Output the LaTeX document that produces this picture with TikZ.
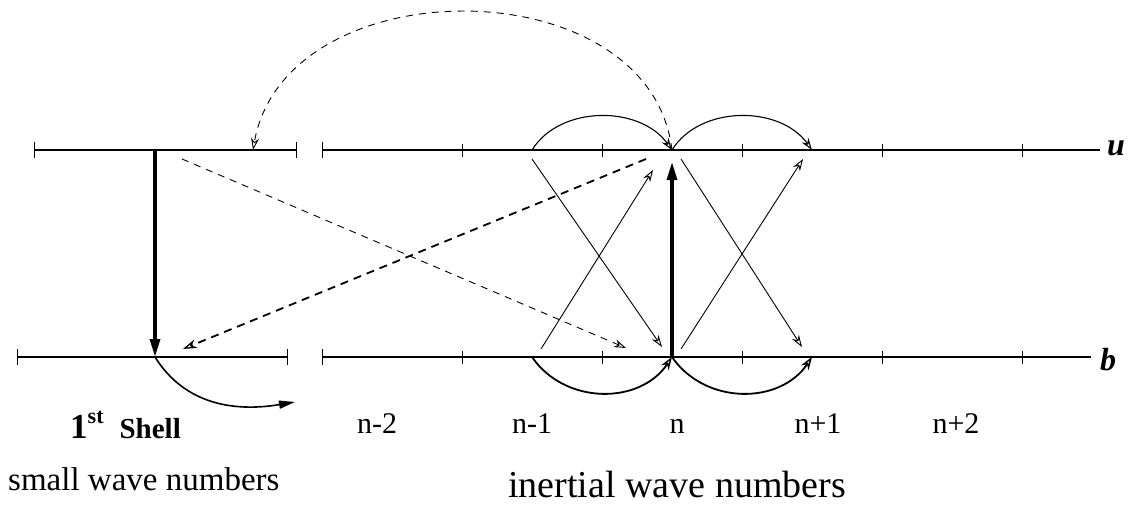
\documentclass[tikz,border=0pt]{standalone}
\usepackage{fontspec}
\setmainfont{Liberation Serif}
\usetikzlibrary{arrows.meta}
\begin{document}
\begin{tikzpicture}[x=1pt,y=-1pt,
  axis/.style={line width=1.3pt},
  shellline/.style={line width=1.8pt},
  tickmark/.style={line width=0.9pt},
  thinarr/.style={line width=0.9pt,-{Stealth[open,length=12pt,width=8pt]}},
  arcarr/.style={line width=1.1pt,-{Stealth[open,length=12pt,width=8pt]}},
  botarr/.style={line width=1.8pt,-{Stealth[open,length=13pt,width=9pt,line width=1.4pt]}},
  boldarr/.style={line width=3.2pt,-{Triangle[length=18pt,width=10pt]}},
  dasharr/.style={line width=0.9pt,dash pattern=on 7pt off 6pt,-{Stealth[open,length=12pt,width=8pt]}},
  thickdash/.style={line width=1.8pt,dash pattern=on 8pt off 6pt,-{Stealth[open,length=14pt,width=9pt,line width=1.3pt]}},
  lab/.style={font=\fontsize{30}{32}\selectfont,anchor=base,inner sep=0pt},
  var/.style={font=\fontsize{32}{34}\selectfont\bfseries\itshape,inner sep=0pt}
]
\useasboundingbox (0,0) rectangle (1131,508);

% points
\coordinate (uL) at (34,150);  \coordinate (uR) at (296,150);
\coordinate (bL) at (17,357);  \coordinate (bR) at (287,357);
\coordinate (uA) at (322,150); \coordinate (uB) at (1100,150);
\coordinate (bA) at (322,357); \coordinate (bB) at (1091,357);
\coordinate (uS) at (155,150); \coordinate (bS) at (155,357);
\coordinate (un1) at (532,150); \coordinate (un) at (672,150); \coordinate (unp) at (812,150);
\coordinate (bn1) at (532,357); \coordinate (bn) at (672,357); \coordinate (bnp) at (812,357);
\coordinate (uD) at (253,150);
\coordinate (shellend) at (295,402);

% axes
\draw[shellline] (uL) -- (uR);
\draw[shellline] (bL) -- (bR);
\draw[axis] (uA) -- (uB);
\draw[axis] (bA) -- (bB);
\foreach \p in {uL,uR,bL,bR,uA,bA}
  \draw[tickmark] ([yshift=-8pt]\p) -- ([yshift=8pt]\p);
\foreach \x in {462,602,742,882,1022}{
  \draw[tickmark] (\x,144) -- (\x,157);
  \draw[tickmark] (\x,351) -- (\x,364);
}

% bold vertical arrows
\draw[boldarr] (uS) -- (bS);
\draw[boldarr] (bn) -- ([yshift=-12pt]un);

% top arcs
\draw[arcarr] (un1) .. controls (560,105) and (640,105) .. (un);
\draw[arcarr] (un) .. controls (700,105) and (780,105) .. (unp);

% bottom arcs
\draw[botarr] (bn1) .. controls (565,405) and (640,405) .. (bn);
\draw[botarr] (bn) .. controls (705,405) and (780,405) .. (bnp);

% shell curve
\draw[line width=1.6pt,-{Triangle[length=16pt,width=8pt]}] (bS) .. controls (185,405) and (235,412) .. (shellend);

% crossing diagonals
\coordinate (a1) at (532,159); \coordinate (a2) at (662,347);
\coordinate (c1) at (541,349); \coordinate (c2) at (653,170);
\coordinate (e1) at (681,159); \coordinate (e2) at (802,347);
\coordinate (f1) at (681,349); \coordinate (f2) at (803,159);
\draw[thinarr] (a1) -- (a2);
\draw[thinarr] (c1) -- (c2);
\draw[thinarr] (e1) -- (e2);
\draw[thinarr] (f1) -- (f2);

% dashed
\coordinate (d1) at (182,159); \coordinate (d2) at (626,348);
\coordinate (g1) at (646,159); \coordinate (g2) at (183,349);
\draw[dasharr] (d1) -- (d2);
\draw[thickdash] (g1) -- (g2);
\draw[dasharr] (un) .. controls (650,-34) and (285,-34) .. (uD);

% labels
\node[var] (ulab) at (1116,148) {u};
\node[var] (blab) at (1108,360) {b};
\node[lab] (l1) at (377,433) {n-2};
\node[lab] (l2) at (532,433) {n-1};
\node[lab] (l3) at (677,433) {n};
\node[lab] (l4) at (818,433) {n+1};
\node[lab] (l5) at (956,433) {n+2};
\node[anchor=base west,inner sep=0pt] (shell) at (70,438)
  {\fontsize{35}{37}\selectfont\bfseries 1\raisebox{15pt}{\fontsize{22}{24}\selectfont st}\hspace{16pt}\fontsize{29}{31}\selectfont Shell};
\node[anchor=base west,inner sep=0pt,font=\fontsize{33}{36}\selectfont] (small) at (8,490) {small wave numbers};
\node[anchor=base,inner sep=0pt,font=\fontsize{38}{40}\selectfont] (inert) at (677,497) {inertial wave numbers};
\end{tikzpicture}
\end{document}
